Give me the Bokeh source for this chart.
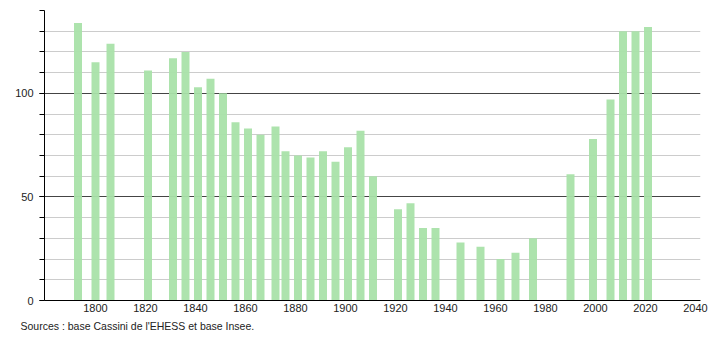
from bokeh.plotting import figure
from bokeh.models import Range1d, SingleIntervalTicker, FixedTicker, Title, ColumnDataSource
from bokeh.embed import file_html
from bokeh.resources import INLINE

years = [1793, 1800, 1806, 1821, 1831, 1836, 1841, 1846, 1851, 1856, 1861, 1866,
         1872, 1876, 1881, 1886, 1891, 1896, 1901, 1906, 1911, 1921, 1926, 1931,
         1936, 1946, 1954, 1962, 1968, 1975, 1990, 1999, 2006, 2011, 2016, 2021]
population = [134, 115, 124, 111, 117, 120, 103, 107, 100, 86, 83, 80,
              84, 72, 70, 69, 72, 67, 74, 82, 60, 44, 47, 35,
              35, 28, 26, 20, 23, 30, 61, 78, 97, 130, 130, 132]
x_ticks = [1800, 1820, 1840, 1860, 1880, 1900, 1920, 1940, 1960, 1980, 2000, 2020, 2040]
source_text = "Sources : base Cassini de l'EHESS et base Insee."

FONT = "Liberation Sans"

p = figure(width=710, height=340, output_backend="svg", toolbar_location=None,
           x_range=Range1d(1779.6, 2042), y_range=Range1d(0, 140),
           min_border_left=44, min_border_right=10, min_border_top=10,
           min_border_bottom=40, outline_line_color=None)
p.background_fill_color = "white"
p.border_fill_color = "white"

src = ColumnDataSource(dict(x=years, top=population))
p.vbar(x="x", top="top", width=3.2, bottom=0, source=src,
       fill_color="#a9e2a9", line_color=None, fill_alpha=0.95)

# x axis
p.xaxis.ticker = FixedTicker(ticks=x_ticks)
p.xaxis.major_tick_out = 0
p.xaxis.major_tick_in = 0
p.xaxis.minor_tick_out = 0
p.xaxis.minor_tick_in = 0
p.xaxis.major_label_standoff = 3
p.xaxis.axis_line_color = "black"
p.xaxis.major_label_text_font = FONT
p.xaxis.major_label_text_font_size = "11px"
p.xaxis.major_label_text_color = "#222222"
p.xgrid.grid_line_color = None

# y axis
p.yaxis.ticker = SingleIntervalTicker(interval=50, num_minor_ticks=5)
p.yaxis.major_tick_out = 5
p.yaxis.major_tick_in = 0
p.yaxis.minor_tick_out = 5
p.yaxis.minor_tick_in = 0
p.yaxis.major_tick_line_color = "black"
p.yaxis.minor_tick_line_color = "black"
p.yaxis.axis_line_color = "black"
p.yaxis.major_label_standoff = 6
p.yaxis.major_label_text_font = FONT
p.yaxis.major_label_text_font_size = "11px"
p.yaxis.major_label_text_color = "#222222"
p.ygrid.grid_line_color = "#444444"
p.ygrid.grid_line_width = 1
p.ygrid.minor_grid_line_color = "#cccccc"
p.ygrid.level = "underlay"

t = Title(text=source_text, align="left", offset=-24, text_font=FONT,
          text_font_size="10.5px", text_font_style="normal", text_color="#222222",
          standoff=6)
p.add_layout(t, "below")

open("out.html", "w").write(file_html(p, INLINE))
